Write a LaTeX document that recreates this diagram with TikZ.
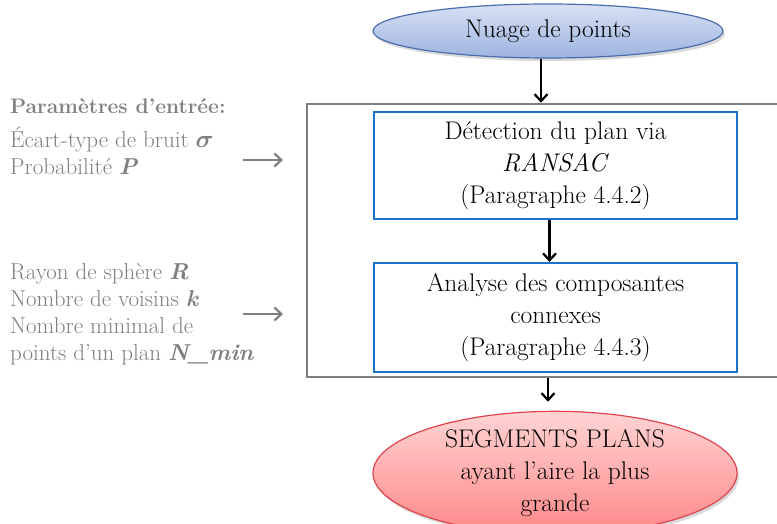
\documentclass[tikz,border=0pt]{standalone}
\usepackage{amsmath}
\usetikzlibrary{shapes.geometric,arrows.meta,shadows}
\definecolor{txtgray}{HTML}{7F7F7F}
\definecolor{boxblue}{HTML}{1A75C8}
\definecolor{ellblueline}{HTML}{4A6DB0}
\definecolor{ellbluetop}{HTML}{D8E1F4}
\definecolor{ellbluebot}{HTML}{9DB3E0}
\definecolor{ellredline}{HTML}{E0444E}
\definecolor{ellredtop}{HTML}{FFD4D4}
\definecolor{ellredbot}{HTML}{FF8787}
\tikzset{
  flowtext/.style={font=\fontsize{25.5}{32}\selectfont, align=center, text=black},
  lefttext/.style={font=\fontsize{23}{27}\selectfont, text=txtgray, anchor=base west, inner sep=0pt},
  procbox/.style={flowtext, draw=boxblue, line width=2.2pt, minimum width=363pt, inner sep=0pt},
  blackarrow/.style={line width=2.2pt, -{Straight Barb[length=7pt,width=13pt,line width=2.2pt]}},
  grayarrow/.style={line width=2.2pt, draw=txtgray, -{Straight Barb[length=7pt,width=13pt,line width=2.2pt]}},
  softshadow/.style={drop shadow={shadow xshift=2pt, shadow yshift=-3pt, opacity=0.25, fill=black!60}}
}
\begin{document}
\begin{tikzpicture}[x=1pt,y=-1pt]
\useasboundingbox (0,0) rectangle (777,524);
\begin{scope}
\clip (0,0) rectangle (777,524);
% outer gray frame
\node[draw=txtgray, line width=2.5pt, minimum width=493pt, minimum height=273pt, inner sep=0pt] (outer) at (553.5,240.5) {};
% top ellipse
\node[ellipse, draw=ellblueline, line width=1.2pt, top color=ellbluetop, bottom color=ellbluebot, softshadow,
      minimum width=350pt, minimum height=54pt, inner sep=0pt, flowtext] (top) at (548,31) {Nuage de points};
% process boxes
\node[procbox, minimum height=107pt] (box1) at (555.5,165.5) {D\'etection du plan via\\\textit{RANSAC}\\(Paragraphe 4.4.2)};
\node[procbox, minimum height=109pt] (box2) at (555.5,317.5) {Analyse des composantes\\connexes\\(Paragraphe 4.4.3)};
% bottom ellipse
\node[ellipse, draw=ellredline, line width=1.2pt, top color=ellredtop, bottom color=ellredbot, softshadow,
      minimum width=364pt, minimum height=116pt, inner sep=0pt, flowtext] (bottom) at (555,473) {SEGMENTS PLANS\\ayant l'aire la plus\\grande};
% black arrows
\draw[blackarrow] ([xshift=-7pt]top.south) -- ([xshift=-7pt]top.south |- outer.north);
\draw[blackarrow] ([xshift=-6pt]box1.south) -- ([xshift=-6pt]box2.north);
\draw[blackarrow, shorten >=9pt] ([xshift=-7pt]bottom.north |- outer.south) -- ([xshift=-7pt]bottom.north);
% left texts
\node[lefttext, font=\fontsize{21}{27}\selectfont\bfseries] (ptitle) at (10,114) {Param\`etres d'entr\'ee:};
\node[lefttext] (p1) at (10,148) {\'Ecart-type de bruit $\boldsymbol{\sigma}$};
\node[lefttext] (p2) at (10,175) {Probabilit\'e \textbf{\textit{P}}};
\node[lefttext] (p3) at (10,279) {Rayon de sph\`ere \textbf{\textit{R}}};
\node[lefttext] (p4) at (10,306) {Nombre de voisins \textbf{\textit{k}}};
\node[lefttext] (p5) at (10,333) {Nombre minimal de};
\node[lefttext] (p6) at (10,360) {points d'un plan \textbf{\textit{N\_min}}};
% gray arrows
\coordinate (g1s) at (243,160);
\coordinate (g1e) at (283,160);
\coordinate (g2s) at (243,314);
\coordinate (g2e) at (283,314);
\draw[grayarrow] (g1s) -- (g1e);
\draw[grayarrow] (g2s) -- (g2e);
\end{scope}
\end{tikzpicture}
\end{document}
